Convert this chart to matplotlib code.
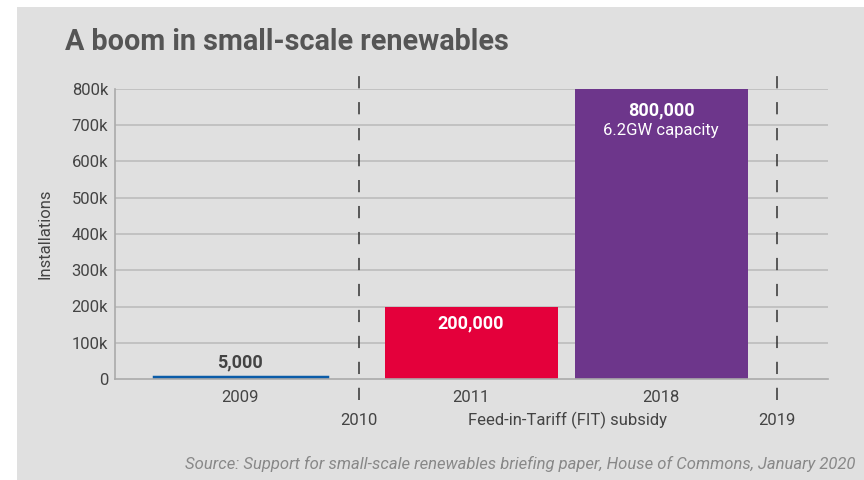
"""A boom in small-scale renewables
"""
import matplotlib.pyplot as plt
from matplotlib.patches import Rectangle

# data
years = ['2009', '2011', '2018']
installations = [5000, 200000, 800000]
bar_labels = ['5,000', '200,000', '800,000']
bar_colors = ['#0b5ca8', '#e4003b', '#6d368b']
marker_years = ['2010', '2019']
y_ticks = [0, 100000, 200000, 300000, 400000, 500000, 600000, 700000, 800000]
y_tick_labels = ['0', '100k', '200k', '300k', '400k', '500k', '600k', '700k', '800k']

# layout (axis units ~ pixels)
bar_x = [125, 356, 546]
bar_w = 173
marker_x = [244, 662]

plt.rcParams['font.family'] = ['Roboto', 'DejaVu Sans']
TXT = '#444444'
FS = 12

fig = plt.figure(figsize=(8.64, 4.8), dpi=100)
fig.patch.set_facecolor('white')
fig.patches.append(Rectangle((17 / 864, 0), 1, 1 - 7 / 480,
                             transform=fig.transFigure,
                             facecolor='#e0e0e0', edgecolor='none',
                             zorder=-5))

ax = fig.add_axes([115 / 864, 1 - 379 / 480, 713 / 864, 290 / 480])
ax.set_facecolor('none')
ax.set_xlim(0, 713)
ax.set_ylim(0, 800000)

for y in y_ticks[1:]:
    ax.axhline(y, color='#bdbdbd', linewidth=1.2, zorder=1)

bars = ax.bar(bar_x, installations, width=bar_w, color=bar_colors, zorder=2)
# the tiny 2009 bar is drawn as a thick line in the original
bars[0].set_edgecolor(bar_colors[0])
bars[0].set_linewidth(2.5)

# dashed year markers
for x, yr in zip(marker_x, marker_years):
    ax.plot([x, x], [-58000, 860000], color='#333333', linewidth=1.1,
            linestyle=(0, (8, 9)), clip_on=False, zorder=3)
    ax.text(x, -115000, yr, ha='center', va='center', fontsize=FS,
            color=TXT)

# bar year labels
for x, yr in zip(bar_x, years):
    ax.text(x, -50000, yr, ha='center', va='center', fontsize=FS, color=TXT)

ax.text(453, -115000, 'Feed-in-Tariff (FIT) subsidy', ha='center',
        va='center', fontsize=FS, color=TXT)

# value labels
ax.text(bar_x[0], 45000, bar_labels[0], ha='center', va='center',
        fontsize=13, fontweight='bold', color=TXT)
ax.text(bar_x[1], 152000, bar_labels[1], ha='center', va='center',
        fontsize=13, fontweight='bold', color='white')
ax.text(bar_x[2], 740000, bar_labels[2], ha='center', va='center',
        fontsize=13, fontweight='bold', color='white')
ax.text(bar_x[2], 686000, '6.2GW capacity', ha='center', va='center',
        fontsize=FS, color='white')

ax.set_yticks(y_ticks)
ax.set_yticklabels(y_tick_labels, fontsize=FS, color=TXT)
ax.set_xticks([])
ax.tick_params(axis='y', length=0, pad=5)
for s in ['top', 'right']:
    ax.spines[s].set_visible(False)
for s in ['left', 'bottom']:
    ax.spines[s].set_color('#aaaaaa')
    ax.spines[s].set_linewidth(1.2)
ax.set_ylabel('Installations', fontsize=FS, color=TXT, labelpad=14)

fig.text(65 / 864, 1 - 42 / 480, 'A boom in small-scale renewables',
         fontsize=20.7, fontweight='bold', color='#555555', va='center',
         ha='left')
fig.text(855 / 864, 1 - 464 / 480,
         'Source: Support for small-scale renewables briefing paper, '
         'House of Commons, January 2020',
         fontsize=12, style='italic', color='#888888', ha='right',
         va='center')

plt.savefig('out.png', dpi=100)
